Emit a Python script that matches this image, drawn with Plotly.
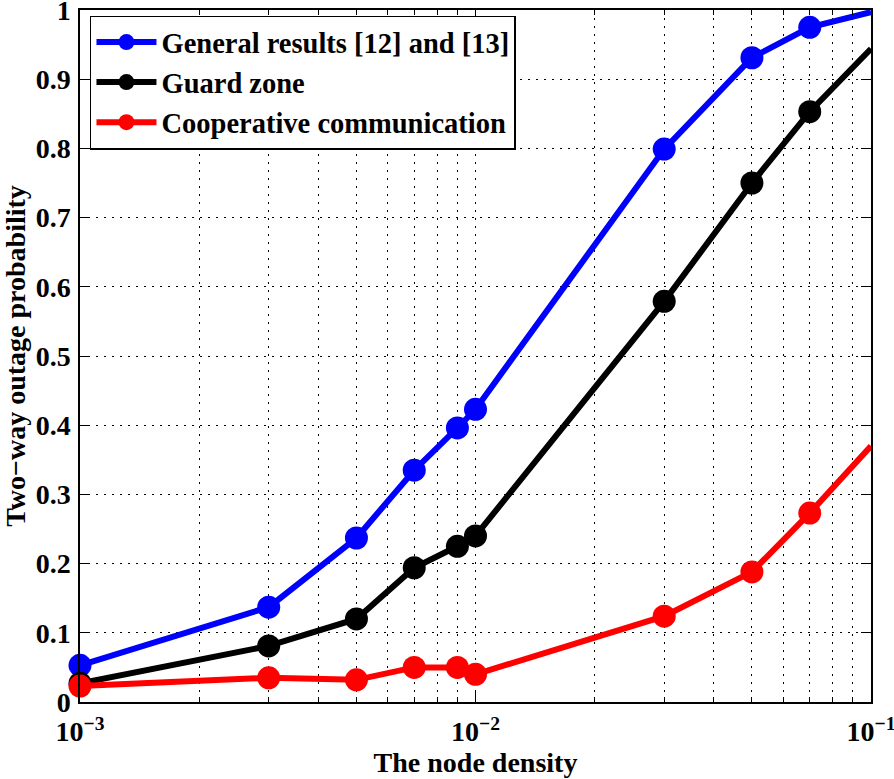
import plotly.graph_objects as go

x_vals = [0.001, 0.003, 0.005, 0.007, 0.009, 0.01, 0.03, 0.05, 0.07, 0.1]
general = [0.053, 0.137, 0.237, 0.335, 0.396, 0.423, 0.799, 0.931, 0.975, 0.997]
guard = [0.027, 0.081, 0.120, 0.194, 0.225, 0.240, 0.579, 0.750, 0.853, 0.944]
coop = [0.023, 0.035, 0.032, 0.050, 0.050, 0.040, 0.124, 0.188, 0.273, 0.370]
series_names = ["General results [12] and [13]", "Guard zone", "Cooperative communication"]
x_tickvals = [0.001, 0.01, 0.1]
x_ticktext = ["10<sup>\u22123</sup>", "10<sup>\u22122</sup>", "10<sup>\u22121</sup>"]
y_tickvals = [0, 0.1, 0.2, 0.3, 0.4, 0.5, 0.6, 0.7, 0.8, 0.9, 1]
y_ticktext = ["0", "0.1", "0.2", "0.3", "0.4", "0.5", "0.6", "0.7", "0.8", "0.9", "1"]
minor_x = [m * 10 ** e for e in (-3, -2) for m in range(2, 10)]

colors = ["#0000ff", "#000000", "#ff0000"]
FONT = "Liberation Serif"
DASH = "2px,6px"

fig = go.Figure()
for name, ys, c in zip(series_names, [general, guard, coop], colors):
    fig.add_trace(go.Scatter(
        x=x_vals, y=ys, name=name, mode="lines+markers",
        line=dict(color=c, width=6),
        marker=dict(color=c, size=23, line=dict(width=0)),
        cliponaxis=False,
    ))

axis_common = dict(
    showline=True, mirror="allticks", linecolor="black", linewidth=1.5,
    ticks="inside", tickcolor="black", ticklen=10, tickwidth=1,
    showgrid=True, gridcolor="black", griddash=DASH, gridwidth=1,
    zeroline=False, ticklabeloverflow="allow", automargin=False,
    tickfont=dict(family=FONT, size=28, color="black", weight="bold"),
)

fig.update_xaxes(
    type="log", range=[-3, -1],
    tickmode="array", tickvals=x_tickvals, ticktext=x_ticktext,
    minor=dict(tickmode="array", tickvals=minor_x, ticks="inside", ticklen=5,
               tickcolor="black", showgrid=True, gridcolor="black", griddash=DASH, gridwidth=1),
    ticklabelstandoff=4,
    title=dict(text="The node density", font=dict(family=FONT, size=28, color="black", weight="bold"), standoff=0),
    **axis_common,
)
fig.update_yaxes(
    range=[0, 1],
    tickmode="array", tickvals=y_tickvals, ticktext=y_ticktext,
    ticklabelstandoff=2,
    title=dict(text="Two\u2212way outage probability", font=dict(family=FONT, size=28, color="black", weight="bold"), standoff=2),
    **axis_common,
)

fig.update_layout(
    width=894, height=779,
    margin=dict(l=80, r=23, t=10, b=77, autoexpand=False),
    plot_bgcolor="white", paper_bgcolor="white",
    font=dict(family=FONT, color="black"),
    showlegend=True,
    legend=dict(
        x=0.0126, y=0.992, xanchor="left", yanchor="top",
        bgcolor="white", bordercolor="black", borderwidth=1.5,
        font=dict(family=FONT, size=28.5, color="black", weight="bold"),
        itemwidth=60, tracegroupgap=0,
    ),
)

fig.write_html(
    "out.html",
    config={"displayModeBar": False},
    post_script="document.body.style.margin='0';document.body.style.overflow='hidden';",
)
